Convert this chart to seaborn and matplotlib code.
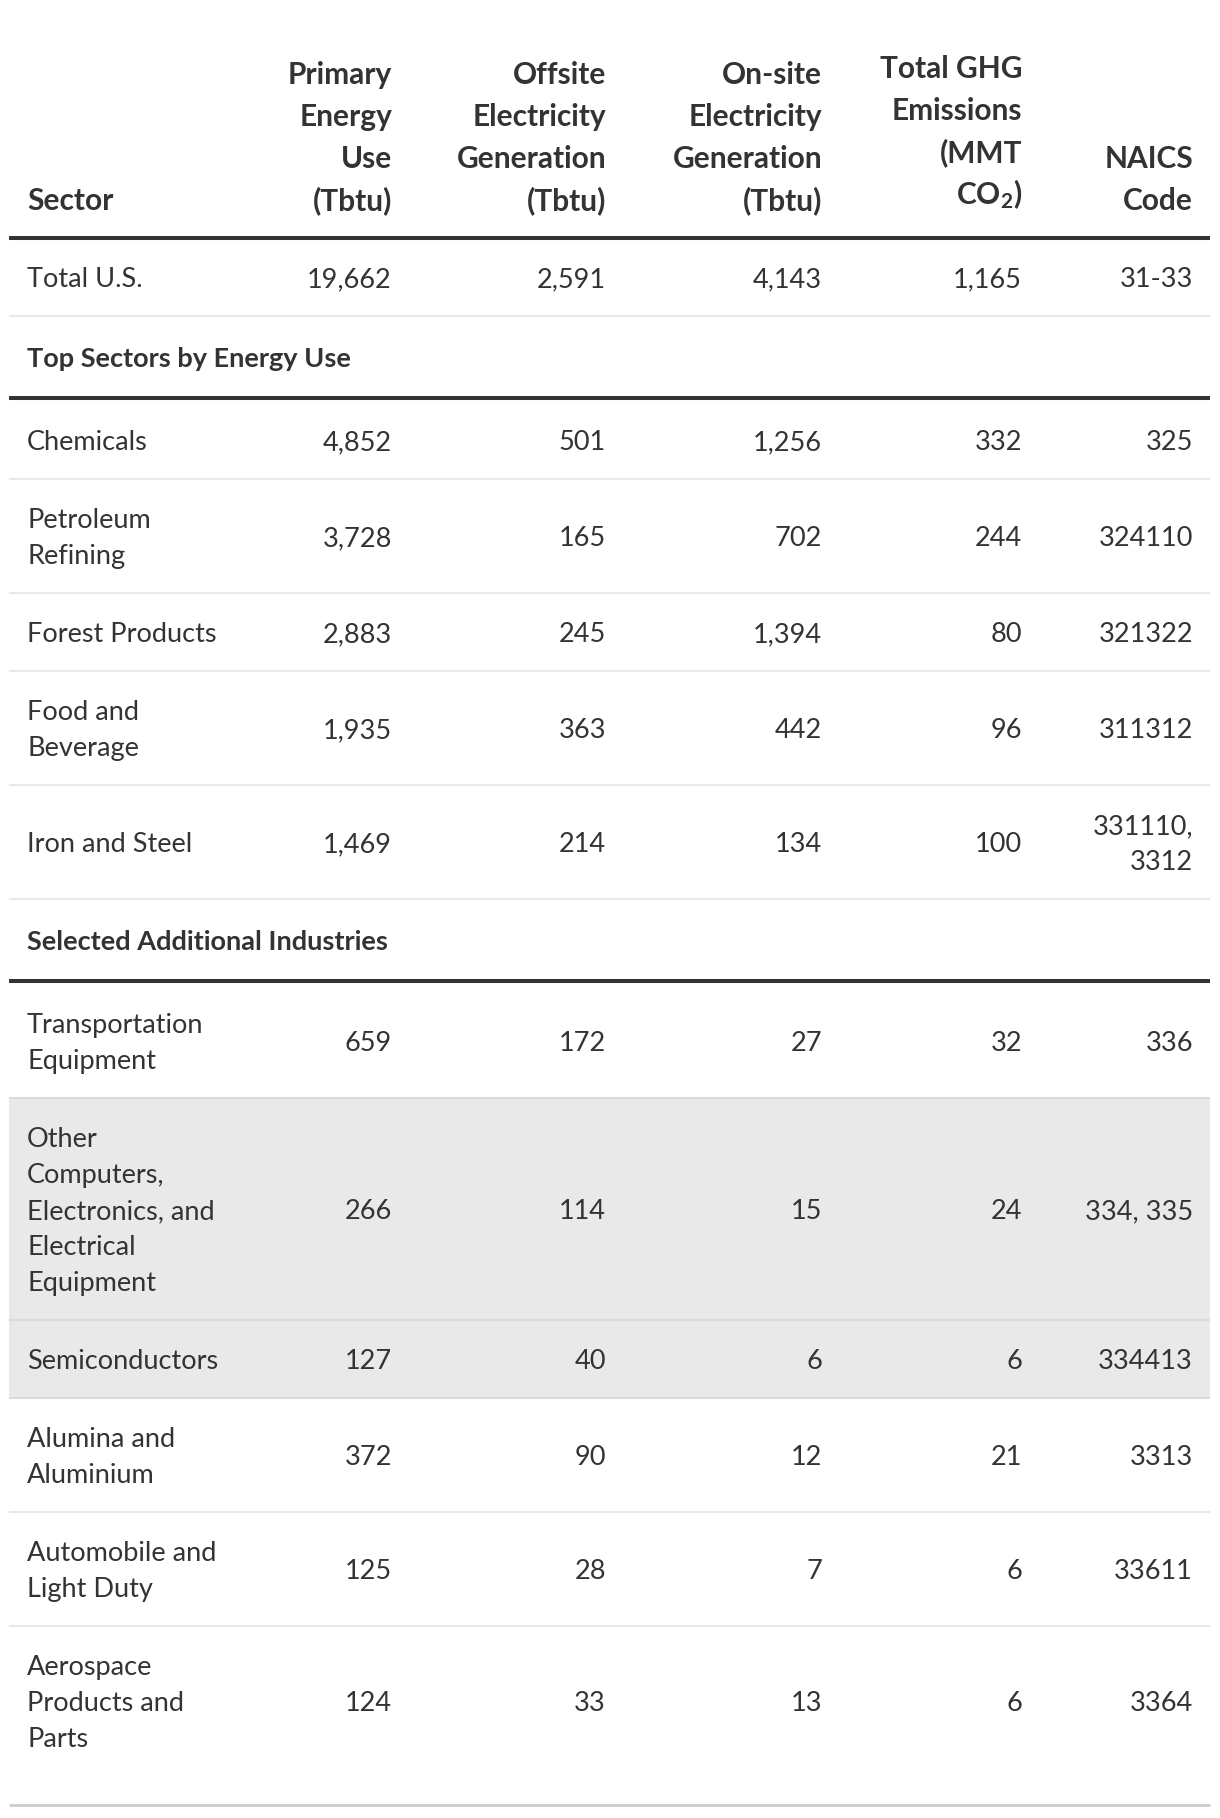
import matplotlib
matplotlib.use("Agg")
import matplotlib.pyplot as plt
import seaborn as sns
import pandas as pd

# Table data
sectors = ["Total U.S.", "Chemicals", "Petroleum\nRefining", "Forest Products",
           "Food and\nBeverage", "Iron and Steel", "Transportation\nEquipment",
           "Other\nComputers,\nElectronics, and\nElectrical\nEquipment",
           "Semiconductors", "Alumina and\nAluminium", "Automobile and\nLight Duty",
           "Aerospace\nProducts and\nParts"]
primary_energy = [19662, 4852, 3728, 2883, 1935, 1469, 659, 266, 127, 372, 125, 124]
offsite_elec = [2591, 501, 165, 245, 363, 214, 172, 114, 40, 90, 28, 33]
onsite_elec = [4143, 1256, 702, 1394, 442, 134, 27, 15, 6, 12, 7, 13]
ghg_emissions = [1165, 332, 244, 80, 96, 100, 32, 24, 6, 21, 6, 6]
naics = ["31-33", "325", "324110", "321322", "311312", "331110,\n3312", "336",
         "334, 335", "334413", "3313", "33611", "3364"]

# section label shown before the row with this index
sections = {1: "Top Sectors by Energy Use", 6: "Selected Additional Industries"}
highlighted = [7, 8]

headers = ["Sector", "Primary\nEnergy\nUse\n(Tbtu)", "Offsite\nElectricity\nGeneration\n(Tbtu)",
           "On-site\nElectricity\nGeneration\n(Tbtu)",
           "Total GHG\nEmissions\n(MMT\n$\\mathregular{CO_2}$)", "NAICS\nCode"]

df = pd.DataFrame({
    "sector": sectors,
    "primary": [f"{v:,}" for v in primary_energy],
    "offsite": [f"{v:,}" for v in offsite_elec],
    "onsite": [f"{v:,}" for v in onsite_elec],
    "ghg": [f"{v:,}" for v in ghg_emissions],
    "naics": naics,
})

sns.set_theme(style="white")
plt.rcParams["font.family"] = ["Lato", "DejaVu Sans"]

TEXT = "#333333"
FS = 19.5
HEAD_FS = 21.5
W, H = 1220, 1818
left, right = 9, 1210
sector_x = 27
col_right = [392, 606, 822, 1022, 1193]
line_h = 36
cap_half = 10

fig = plt.figure(figsize=(W / 100, H / 100), dpi=100)
ax = fig.add_axes([0, 0, 1, 1])
ax.set_xlim(0, W)
ax.set_ylim(H, 0)
ax.set_axis_off()


def draw_lines(x, yc, txt, ha, weight="normal", spacing=line_h):
    parts = txt.split("\n")
    n = len(parts)
    for i, p in enumerate(parts):
        y = yc + (i - (n - 1) / 2) * spacing + cap_half
        ax.text(x, y, p, ha=ha, va="baseline", fontsize=FS, color=TEXT,
                fontweight=weight)


# header
head_base = 210
for j, h in enumerate(headers):
    parts = h.split("\n")
    x = sector_x if j == 0 else col_right[j - 1]
    ha = "left" if j == 0 else "right"
    base = head_base - 6 if j == 4 else head_base
    for k, p in enumerate(reversed(parts)):
        ax.text(x, base - 42 * k, p, ha=ha, va="baseline", fontsize=HEAD_FS,
                color=TEXT, fontweight="bold")

y = 238
ax.hlines(y, left, right, color="#333333", lw=2.9)

for i, row in df.iterrows():
    if i in sections:
        ax.hlines(y, left, right, color="#e8e8e8", lw=1.5)
        draw_lines(sector_x, y + 41, sections[i], "left", weight="bold")
        y += 82
        ax.hlines(y, left, right, color="#333333", lw=2.9)
        y += 3
    n = max(row["sector"].count("\n"), row["naics"].count("\n")) + 1
    h = 78 + line_h * (n - 1)
    if i in highlighted:
        ax.axhspan(y, y + h, xmin=left / W, xmax=right / W, color="#e9e9e9", lw=0)
    if i > 0 and i not in sections:
        c = "#d9d9d9" if (i in highlighted or i - 1 in highlighted) else "#e8e8e8"
        ax.hlines(y, left, right, color=c, lw=1.5)
    yc = y + h / 2
    draw_lines(sector_x, yc, row["sector"], "left")
    for x, key in zip(col_right, ["primary", "offsite", "onsite", "ghg", "naics"]):
        draw_lines(x, yc, row[key], "right")
    y += h

y += 29
ax.hlines(y, left, right, color="#cccccc", lw=2)

fig.savefig("out.png", dpi=100, facecolor="white")
